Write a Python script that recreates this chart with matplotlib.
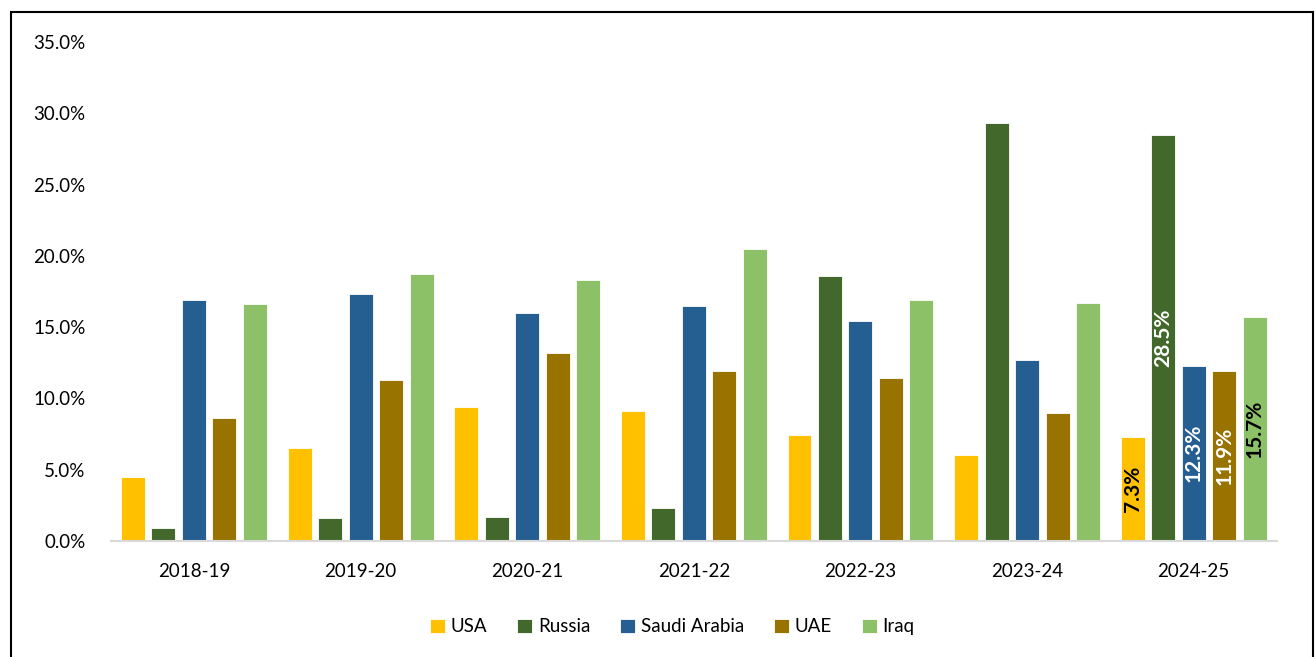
import matplotlib
matplotlib.use("Agg")
import matplotlib.pyplot as plt
import numpy as np
from matplotlib.patches import Rectangle
from matplotlib.ticker import PercentFormatter

plt.rcParams["font.family"] = ["Lato", "DejaVu Sans"]

years = ["2018-19", "2019-20", "2020-21", "2021-22", "2022-23", "2023-24", "2024-25"]
countries = ["USA", "Russia", "Saudi Arabia", "UAE", "Iraq"]

usa = [4.5, 6.5, 9.4, 9.1, 7.4, 6.0, 7.3]
russia = [0.9, 1.6, 1.7, 2.3, 18.6, 29.3, 28.5]
saudi = [16.9, 17.3, 16.0, 16.5, 15.4, 12.7, 12.3]
uae = [8.6, 11.3, 13.2, 11.9, 11.4, 9.0, 11.9]
iraq = [16.6, 18.7, 18.3, 20.5, 16.9, 16.7, 15.7]

colors = ["#FFC000", "#43682B", "#255E91", "#997300", "#8CC168"]
label_colors = ["black", "white", "white", "white", "black"]

series = [usa, russia, saudi, uae, iraq]

fig = plt.figure(figsize=(13.16, 6.57), dpi=100)
ax = fig.add_axes([0.0841, 0.1766, 0.8863, 0.7595])

x = np.arange(len(years))
step = 0.183
width = 0.144

for i, (vals, name) in enumerate(zip(series, countries)):
    pos = x + (i - 2) * step
    bars = ax.bar(pos, vals, width=width, color=colors[i], label=name,
                  edgecolor="white", linewidth=0.6)
    # data label only on the last year
    b = bars[-1]
    ax.text(b.get_x() + b.get_width() / 2, vals[-1] / 2, f"{vals[-1]:.1f}%",
            rotation=90, ha="center", va="center", fontsize=15,
            fontweight="bold", color=label_colors[i])

ax.set_xlim(-0.5, len(years) - 0.5)
ax.set_ylim(0, 35)
ax.set_yticks(np.arange(0, 36, 5))
ax.yaxis.set_major_formatter(PercentFormatter(decimals=1))
ax.set_xticks(x)
ax.set_xticklabels(years)
ax.tick_params(axis="y", length=0, pad=18, labelsize=13.5)
ax.tick_params(axis="x", length=0, pad=16, labelsize=13.5)

for s in ["top", "right", "left"]:
    ax.spines[s].set_visible(False)
ax.spines["bottom"].set_color("#D9D9D9")
ax.spines["bottom"].set_linewidth(1.5)

fig.legend(loc="center", bbox_to_anchor=(0.511, 0.046), ncol=5, frameon=False,
           fontsize=13.5, handlelength=0.8, handleheight=0.8, handletextpad=0.3,
           columnspacing=1.6)

fig.patches.append(Rectangle((10.5 / 1316, -0.05), (1313 - 10.5) / 1316, 1.05 - 12 / 657,
                             transform=fig.transFigure, fill=False,
                             edgecolor="black", linewidth=1.5))

fig.savefig("out.png", dpi=100)
